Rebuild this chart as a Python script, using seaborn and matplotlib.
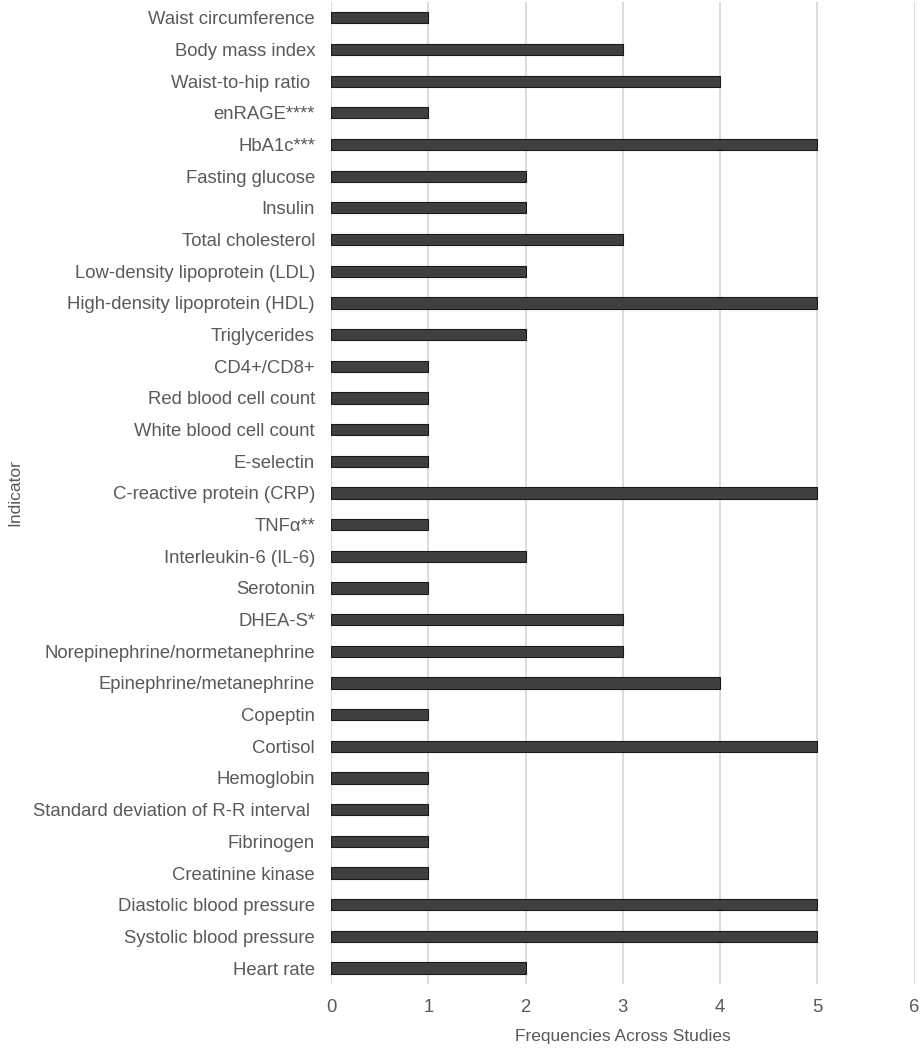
import numpy as np
import pandas as pd
import seaborn as sns
import matplotlib
matplotlib.use("Agg")
import matplotlib.pyplot as plt

# indicators, top to bottom as they appear
indicators = [
    "Waist circumference", "Body mass index", "Waist-to-hip ratio ", "enRAGE****",
    "HbA1c***", "Fasting glucose", "Insulin", "Total cholesterol",
    "Low-density lipoprotein (LDL)", "High-density lipoprotein (HDL)", "Triglycerides",
    "CD4+/CD8+", "Red blood cell count", "White blood cell count", "E-selectin",
    "C-reactive protein (CRP)", "TNF\u03b1**", "Interleukin-6 (IL-6)", "Serotonin",
    "DHEA-S*", "Norepinephrine/normetanephrine", "Epinephrine/metanephrine",
    "Copeptin", "Cortisol", "Hemoglobin", "Standard deviation of R-R interval ",
    "Fibrinogen", "Creatinine kinase", "Diastolic blood pressure",
    "Systolic blood pressure", "Heart rate",
]
frequencies = [1, 3, 4, 1, 5, 2, 2, 3, 2, 5, 2, 1, 1, 1, 1, 5, 1, 2, 1, 3, 3, 4,
               1, 5, 1, 1, 1, 1, 5, 5, 2]

df = pd.DataFrame({"Indicator": indicators, "Frequency": frequencies})

sns.set_theme(style="white")
plt.rcParams['font.family'] = ['Liberation Sans', 'DejaVu Sans']
txt = "#595959"

fig = plt.figure(figsize=(9.23, 10.5), dpi=100)
ax = fig.add_axes([0.3586, 0.063, 0.6323, 0.935])

sns.barplot(data=df, x="Frequency", y="Indicator", orient="h", color="#404040",
            width=0.35, edgecolor="#1a1a1a", linewidth=0.8, saturation=1, ax=ax)

ax.set_xlim(0, 6)
ax.set_ylim(len(indicators) - 0.5, -0.5)
ax.set_xticks(range(0, 7))
ax.xaxis.grid(True, color="#d9d9d9", linewidth=1.3)
ax.set_axisbelow(True)
for s in ax.spines.values():
    s.set_visible(False)

ax.tick_params(axis="both", length=0, labelsize=13.3, colors=txt)
ax.tick_params(axis="y", pad=11.5)
ax.tick_params(axis="x", pad=11)
ax.set_xlabel("Frequencies Across Studies", fontsize=12.5, color=txt, labelpad=9)
ax.set_ylabel("Indicator", fontsize=12.5, color=txt)
ax.yaxis.set_label_coords(-0.528, 0.5)

fig.savefig("out.png", dpi=100)
